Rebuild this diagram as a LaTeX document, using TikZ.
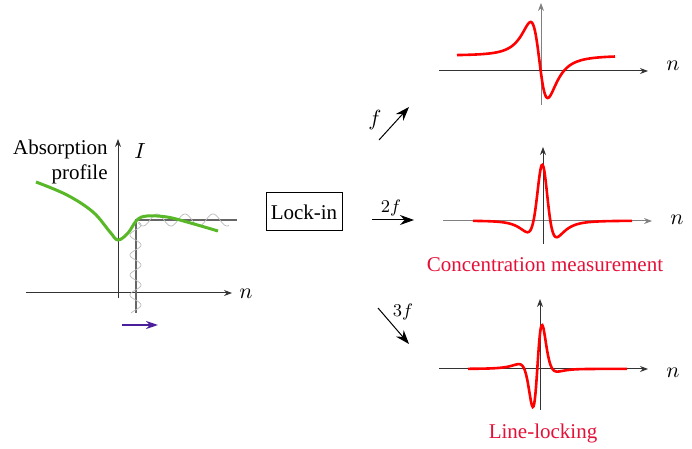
\documentclass[tikz,border=0pt]{standalone}
\usepackage{fontspec}
\setmainfont{Liberation Serif}
\usepackage{tikz}
\usetikzlibrary{arrows.meta}

\definecolor{curvered}{RGB}{255,0,0}
\definecolor{textred}{RGB}{228,16,56}
\definecolor{profgreen}{RGB}{88,184,40}
\definecolor{scanpurple}{RGB}{75,30,155}

\begin{document}
\begin{tikzpicture}[x=0.5pt, y=-0.5pt, >=Stealth,
    font=\fontsize{10.5}{12.5}\selectfont,
    axis/.style={black!80, line width=0.5pt, -{Stealth[length=4pt,width=3pt]}},
    greyaxis/.style={axis, black!50},
    harm/.style={line width=0.5pt, -{Stealth[length=7pt,width=5pt]}},
    signal/.style={curvered, line width=1.3pt},
    wiggle/.style={gray!55, line width=0.35pt},
    declare function={lzero(\u)=1/(1+\u*\u);
        lone(\u)=-2*\u*lzero(\u)*lzero(\u);
        ltwo(\u)=(6*\u*\u-2)*lzero(\u)*lzero(\u)*lzero(\u);
        lthree(\u)=24*\u*(1-\u*\u)*lzero(\u)*lzero(\u)*lzero(\u)*lzero(\u);}]
    \useasboundingbox (0,0) rectangle (692,449);

    % absorption profile
    \coordinate (ax0) at (26,293);
    \coordinate (ax1) at (232,293);
    \coordinate (ay0) at (118,298);
    \coordinate (ay1) at (118,139);
    \draw[axis] (ax0) -- (ax1);
    \draw[axis] (ay0) -- (ay1);
    \node (nleft) at (246,294) {$n$};
    \node (ilabel) at (140,151) {$I$};
    \node[align=right, anchor=east, inner sep=0pt] (absprof) at (108,162) {Absorption\\profile};

    % modulated line
    \coordinate (lcorner) at (136,220);
    \coordinate (lbottom) at (136,313);
    \coordinate (lright) at (237,220);
    \draw[black!60, line width=0.6pt] (lbottom) -- (lcorner) -- (lright);
    \draw[wiggle] plot[variable=\t, domain=222:313, samples=90, smooth]
        ({135.5+5.5*sin(\t*18)}, \t);
    \draw[wiggle] plot[variable=\t, domain=138:229, samples=90, smooth]
        (\t, {220+6*sin((\t-136)*12.857)});

    \draw[profgreen, line width=1.5pt] plot[smooth, tension=0.6] coordinates {
        (36,182) (67,195) (93,212) (110,232) (118,240) (128,233)
        (137,220) (147,216) (167,217) (187,222) (218,231)};

    \coordinate (scan0) at (122,325);
    \coordinate (scan1) at (158,325);
    \draw[scanpurple, line width=0.8pt, -{Stealth[length=6pt,width=4pt]}] (scan0) -- (scan1);

    % lock-in
    \node[draw, line width=0.5pt, minimum width=38pt, minimum height=19pt, inner sep=1pt] (lockin) at (304,212) {Lock-in};

    % harmonics
    \coordinate (f0) at (379,140);
    \coordinate (f1) at (409,107);
    \draw[harm] (f0) -- (f1);
    \node (flabel) at (375,120) {$f$};
    \coordinate (g0) at (372,220);
    \coordinate (g1) at (414,220);
    \draw[harm] (g0) -- (g1);
    \node (glabel) at (391,208) {\small$2f$};
    \coordinate (h0) at (378,308);
    \coordinate (h1) at (409,344);
    \draw[harm] (h0) -- (h1);
    \node (hlabel) at (403,312) {\small$3f$};

    % first harmonic
    \coordinate (tx0) at (439,71);
    \coordinate (tx1) at (648,71);
    \coordinate (ty0) at (541,105);
    \coordinate (ty1) at (541,3);
    \draw[axis] (tx0) -- (tx1);
    \draw[greyaxis] (ty0) -- (ty1);
    \node (ntop) at (673,66) {$n$};
    \draw[signal] plot[domain=457:615, samples=200, smooth]
        (\x, {55.5 - 58.5*lone((\x-539.5)/14.7) + 6*lzero((\x-539.5)/14.7)});

    % second harmonic
    \coordinate (mx0) at (443,221);
    \coordinate (mx1) at (652,221);
    \coordinate (my0) at (543,244);
    \coordinate (my1) at (543,147);
    \draw[greyaxis] (mx0) -- (mx1);
    \draw[axis] (my0) -- (my1);
    \node (nmid) at (677,220) {$n$};
    \draw[signal] plot[domain=473:632, samples=200, smooth]
        (\x, {220.7 + 28*ltwo((\x-542.5)/14.5) - 5*lone((\x-542.5)/14.5)});
    \node[textred] (conc) at (545,265) {Concentration measurement};

    % third harmonic
    \coordinate (bx0) at (439,369);
    \coordinate (bx1) at (648,369);
    \coordinate (by0) at (540,410);
    \coordinate (by1) at (540,299);
    \draw[axis] (bx0) -- (bx1);
    \draw[axis] (by0) -- (by1);
    \node (nbot) at (673,373) {$n$};
    \draw[signal] plot[domain=468:627, samples=200, smooth]
        (\x, {369 - 8.8*lthree((\x-537.5)/14) - 3.3*lzero((\x-537.5)/14)});
    \node[textred] (lineloc) at (543,433) {Line-locking};
\end{tikzpicture}
\end{document}
